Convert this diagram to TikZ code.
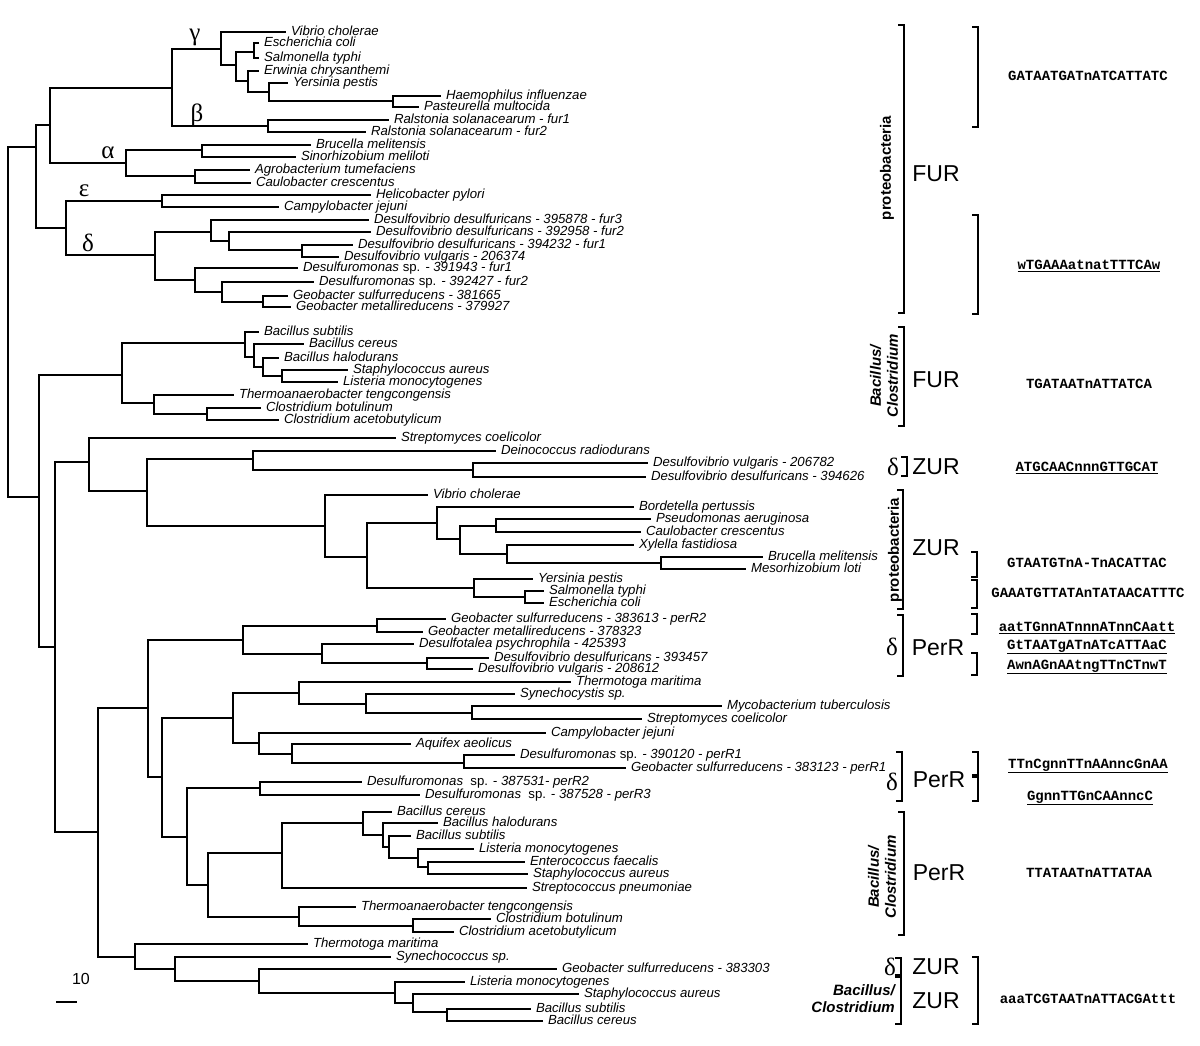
\documentclass[tikz,border=0pt]{standalone}
\usepackage{fontspec}
\setmainfont{Liberation Sans}
\setmonofont{Liberation Mono}
\newfontfamily\greekfont{Liberation Serif}
\usepackage{tikz}

\newcommand{\grpbrace}[3]{\draw[clade] (#1-6,#2) -- (#1,#2) -- (#1,#3) -- (#1-6,#3);}

\begin{document}
\begin{tikzpicture}[x=1pt, y=-1pt,
    branch/.style={line width=1.6pt, line cap=rect},
    clade/.style={line width=1.6pt},
    fork/.style={inner sep=0pt, outer sep=0pt, minimum size=0pt},
    leaf/.style={anchor=west, inner xsep=6pt, inner ysep=0pt, outer sep=0pt,
        text height=9.5pt, text depth=2.8pt, font=\fontsize{13.2}{15}\selectfont\itshape},
    greek/.style={inner sep=0pt, font=\fontsize{25}{25}\selectfont\greekfont},
    regulator/.style={inner sep=0pt, font=\fontsize{23}{23}\selectfont},
    motif/.style={inner sep=0pt, font=\fontsize{14}{14}\selectfont\ttfamily\bfseries},
    group/.style={inner sep=0pt, rotate=90, align=center, font=\fontsize{15}{17}\selectfont\bfseries},
    bacname/.style={inner sep=0pt, align=center, font=\fontsize{15}{17}\selectfont\bfseries\itshape}]
    \useasboundingbox (0,0) rectangle (1200,1046);

    % forks: FUR
    \node[fork] (root) at (8,497) {};
    \node[fork] (prot) at (36,147) {};
    \node[fork] (gab) at (50,125) {};
    \node[fork] (gb) at (172,88) {};
    \node[fork] (gam) at (221,49) {};
    \node[fork] (g1) at (236,65) {};
    \node[fork] (g2) at (254,52) {};
    \node[fork] (g3) at (248,81) {};
    \node[fork] (g4) at (269,92) {};
    \node[fork] (g5) at (393,101) {};
    \node[fork] (bet) at (268,126) {};
    \node[fork] (alp) at (126,163) {};
    \node[fork] (a1) at (202,150) {};
    \node[fork] (a2) at (195,176) {};
    \node[fork] (ed) at (66,228) {};
    \node[fork] (eps) at (162,201) {};
    \node[fork] (del) at (155,255) {};
    \node[fork] (d1) at (211,232) {};
    \node[fork] (d2) at (229,241) {};
    \node[fork] (d3) at (302,250) {};
    \node[fork] (d4) at (195,280) {};
    \node[fork] (d5) at (222,292) {};
    \node[fork] (d6) at (263,302) {};
    \node[fork] (low) at (39,497) {};
    \node[fork] (bcf) at (122,375) {};
    \node[fork] (b1) at (245,343) {};
    \node[fork] (b2) at (254,357) {};
    \node[fork] (b3) at (263,367) {};
    \node[fork] (b4) at (282,376) {};
    \node[fork] (c1) at (154,403) {};
    \node[fork] (c2) at (207,414) {};
    % forks: ZUR
    \node[fork] (zp) at (55,647) {};
    \node[fork] (z1) at (89,462) {};
    \node[fork] (z2) at (147,491) {};
    \node[fork] (z3) at (253,459) {};
    \node[fork] (z4) at (473,470) {};
    \node[fork] (zpro) at (325,526) {};
    \node[fork] (z5) at (367,557) {};
    \node[fork] (z6) at (437,523) {};
    \node[fork] (z7) at (460,539) {};
    \node[fork] (z8) at (496,526) {};
    \node[fork] (z9) at (507,554) {};
    \node[fork] (z10) at (661,563) {};
    \node[fork] (z11) at (474,588) {};
    \node[fork] (z12) at (525,597) {};
    % forks: PerR
    \node[fork] (pz) at (98,832) {};
    \node[fork] (p0) at (148,708) {};
    \node[fork] (pd) at (243,640) {};
    \node[fork] (p1) at (377,626) {};
    \node[fork] (p2) at (322,654) {};
    \node[fork] (p3) at (427,663) {};
    \node[fork] (p4) at (162,777) {};
    \node[fork] (p5) at (233,718) {};
    \node[fork] (p6) at (299,693) {};
    \node[fork] (p7) at (366,704) {};
    \node[fork] (p8) at (472,713) {};
    \node[fork] (p9) at (259,743) {};
    \node[fork] (p10) at (292,754) {};
    \node[fork] (p11) at (464,763) {};
    \node[fork] (p12) at (187,837) {};
    \node[fork] (p13) at (260,788) {};
    \node[fork] (pb) at (208,885) {};
    \node[fork] (p14) at (282,853) {};
    \node[fork] (p15) at (363,823) {};
    \node[fork] (p16) at (383,835) {};
    \node[fork] (p17) at (389,847) {};
    \node[fork] (p18) at (418,858) {};
    \node[fork] (p19) at (428,867) {};
    \node[fork] (p20) at (299,917) {};
    \node[fork] (p21) at (413,926) {};
    \node[fork] (zb) at (135,957) {};
    \node[fork] (q1) at (175,969) {};
    \node[fork] (q2) at (259,981) {};
    \node[fork] (q3) at (395,993) {};
    \node[fork] (q4) at (413,1003) {};
    \node[fork] (q5) at (447,1012) {};

    % leaves: FUR
    \node[leaf] (vcho) at (285,32) {Vibrio cholerae};
    \node[leaf] (ecol) at (258,43) {Escherichia coli};
    \node[leaf] (styp) at (258,58) {Salmonella typhi};
    \node[leaf] (erwi) at (258,71) {Erwinia chrysanthemi};
    \node[leaf] (ypes) at (287,83) {Yersinia pestis};
    \node[leaf] (hinf) at (440,96) {Haemophilus influenzae};
    \node[leaf] (pmul) at (418,107) {Pasteurella multocida};
    \node[leaf] (rso1) at (388,120) {Ralstonia solanacearum - fur1};
    \node[leaf] (rso2) at (365,132) {Ralstonia solanacearum - fur2};
    \node[leaf] (bmel) at (310,145) {Brucella melitensis};
    \node[leaf] (smel) at (295,157) {Sinorhizobium meliloti};
    \node[leaf] (atum) at (249,170) {Agrobacterium tumefaciens};
    \node[leaf] (ccre) at (250,183) {Caulobacter crescentus};
    \node[leaf] (hpyl) at (370,195) {Helicobacter pylori};
    \node[leaf] (cjej) at (278,207) {Campylobacter jejuni};
    \node[leaf] (ddes1) at (368,220) {Desulfovibrio desulfuricans - 395878 - fur3};
    \node[leaf] (ddes2) at (370,232) {Desulfovibrio desulfuricans - 392958 - fur2};
    \node[leaf] (ddes3) at (352,245) {Desulfovibrio desulfuricans - 394232 - fur1};
    \node[leaf] (dvul1) at (338,257) {Desulfovibrio vulgaris - 206374};
    \node[leaf] (dsp1) at (297,268) {Desulfuromonas \textup{sp.} - 391943 - fur1};
    \node[leaf] (dsp2) at (313,282) {Desulfuromonas \textup{sp.} - 392427 - fur2};
    \node[leaf] (gsul1) at (287,296) {Geobacter sulfurreducens - 381665};
    \node[leaf] (gmet1) at (290,307) {Geobacter metallireducens - 379927};
    \node[leaf] (bsub) at (258,332) {Bacillus subtilis};
    \node[leaf] (bcer) at (303,344) {Bacillus cereus};
    \node[leaf] (bhal) at (278,358) {Bacillus halodurans};
    \node[leaf] (saur) at (347,370) {Staphylococcus aureus};
    \node[leaf] (lmon) at (337,382) {Listeria monocytogenes};
    \node[leaf] (tten) at (233,395) {Thermoanaerobacter tengcongensis};
    \node[leaf] (cbot) at (260,408) {Clostridium botulinum};
    \node[leaf] (cace) at (278,420) {Clostridium acetobutylicum};
    % leaves: ZUR
    \node[leaf] (scoe) at (395,438) {Streptomyces coelicolor};
    \node[leaf] (drad) at (495,451) {Deinococcus radiodurans};
    \node[leaf] (dvul2) at (647,463) {Desulfovibrio vulgaris - 206782};
    \node[leaf] (ddes4) at (645,477) {Desulfovibrio desulfuricans - 394626};
    \node[leaf] (vcho2) at (427,495) {Vibrio cholerae};
    \node[leaf] (bper) at (633,507) {Bordetella pertussis};
    \node[leaf] (paer) at (650,519) {Pseudomonas aeruginosa};
    \node[leaf] (ccre2) at (640,532) {Caulobacter crescentus};
    \node[leaf] (xfas) at (633,545) {Xylella fastidiosa};
    \node[leaf] (bmel2) at (762,557) {Brucella melitensis};
    \node[leaf] (mlot) at (745,569) {Mesorhizobium loti};
    \node[leaf] (ypes2) at (532,579) {Yersinia pestis};
    \node[leaf] (styp2) at (543,591) {Salmonella typhi};
    \node[leaf] (ecol2) at (543,603) {Escherichia coli};
    % leaves: PerR
    \node[leaf] (gsul2) at (445,619) {Geobacter sulfurreducens - 383613 - perR2};
    \node[leaf] (gmet2) at (422,632) {Geobacter metallireducens - 378323};
    \node[leaf] (dpsy) at (413,644) {Desulfotalea psychrophila - 425393};
    \node[leaf] (ddes5) at (488,658) {Desulfovibrio desulfuricans - 393457};
    \node[leaf] (dvul3) at (472,669) {Desulfovibrio vulgaris - 208612};
    \node[leaf] (tmar) at (570,682) {Thermotoga maritima};
    \node[leaf] (syny) at (514,694) {Synechocystis sp.};
    \node[leaf] (mtub) at (721,706) {Mycobacterium tuberculosis};
    \node[leaf] (scoe2) at (641,719) {Streptomyces coelicolor};
    \node[leaf] (cjej2) at (545,733) {Campylobacter jejuni};
    \node[leaf] (aaeo) at (410,744) {Aquifex aeolicus};
    \node[leaf] (dsp3) at (514,755) {Desulfuromonas \textup{sp.} - 390120 - perR1};
    \node[leaf] (gsul3) at (625,768) {Geobacter sulfurreducens - 383123 - perR1};
    \node[leaf] (dsp4) at (361,782) {Desulfuromonas \ \textup{sp.} - 387531- perR2};
    \node[leaf] (dsp5) at (419,795) {Desulfuromonas \ \textup{sp.} - 387528 - perR3};
    \node[leaf] (bcer2) at (391,812) {Bacillus cereus};
    \node[leaf] (bhal2) at (437,823) {Bacillus halodurans};
    \node[leaf] (bsub2) at (410,836) {Bacillus subtilis};
    \node[leaf] (lmon2) at (473,849) {Listeria monocytogenes};
    \node[leaf] (efae) at (524,862) {Enterococcus faecalis};
    \node[leaf] (saur2) at (527,874) {Staphylococcus aureus};
    \node[leaf] (spne) at (526,888) {Streptococcus pneumoniae};
    \node[leaf] (tten2) at (355,907) {Thermoanaerobacter tengcongensis};
    \node[leaf] (cbot2) at (490,919) {Clostridium botulinum};
    \node[leaf] (cace2) at (453,932) {Clostridium acetobutylicum};
    % leaves: ZUR (Bacillus/Clostridium)
    \node[leaf] (tmar2) at (307,944) {Thermotoga maritima};
    \node[leaf] (sync) at (390,957) {Synechococcus sp.};
    \node[leaf] (gsul4) at (556,969) {Geobacter sulfurreducens - 383303};
    \node[leaf] (lmon3) at (464,982) {Listeria monocytogenes};
    \node[leaf] (saur3) at (578,994) {Staphylococcus aureus};
    \node[leaf] (bsub3) at (530,1009) {Bacillus subtilis};
    \node[leaf] (bcer3) at (542,1021) {Bacillus cereus};

    % branches
    \foreach \p/\a/\b in {root/prot/low, prot/gab/ed, gab/gb/alp, gb/gam/bet,
        gam/vcho/g1, g1/g2/g3, g2/ecol/styp, g3/erwi/g4, g4/ypes/g5, g5/hinf/pmul,
        bet/rso1/rso2, alp/a1/a2, a1/bmel/smel, a2/atum/ccre, ed/eps/del,
        eps/hpyl/cjej, del/d1/d4, d1/ddes1/d2, d2/ddes2/d3, d3/ddes3/dvul1,
        d4/dsp1/d5, d5/dsp2/d6, d6/gsul1/gmet1,
        low/bcf/zp, bcf/b1/c1, b1/bsub/b2, b2/bcer/b3, b3/bhal/b4, b4/saur/lmon,
        c1/tten/c2, c2/cbot/cace,
        zp/z1/pz, z1/scoe/z2, z2/z3/zpro, z3/drad/z4, z4/dvul2/ddes4,
        zpro/vcho2/z5, z5/z6/z11, z6/bper/z7, z7/z8/z9, z8/paer/ccre2,
        z9/xfas/z10, z10/bmel2/mlot, z11/ypes2/z12, z12/styp2/ecol2,
        pz/p0/zb, p0/pd/p4, pd/p1/p2, p1/gsul2/gmet2, p2/dpsy/p3, p3/ddes5/dvul3,
        p4/p5/p12, p5/p6/p9, p6/tmar/p7, p7/syny/p8, p8/mtub/scoe2,
        p9/cjej2/p10, p10/aaeo/p11, p11/dsp3/gsul3, p12/p13/pb, p13/dsp4/dsp5,
        pb/p14/p20, p14/p15/spne, p15/bcer2/p16, p16/bhal2/p17, p17/bsub2/p18,
        p18/lmon2/p19, p19/efae/saur2, p20/tten2/p21, p21/cbot2/cace2,
        zb/tmar2/q1, q1/sync/q2, q2/gsul4/q3, q3/lmon3/q4, q4/saur3/q5, q5/bsub3/bcer3}
        \draw[branch] (\a.west) -| (\p) (\b.west) -| (\p);

    % subdivisions
    \node[greek] (lgam) at (195,37) {γ};
    \node[greek] (lbet) at (197,115) {β};
    \node[greek] (lalp) at (108,153) {α};
    \node[greek] (leps) at (84,191) {ε};
    \node[greek] (ldel) at (88,243) {δ};

    % scale
    \node[font=\fontsize{16}{16}\selectfont] (unit) at (81,979) {10};
    \draw[branch, line cap=butt] (56,1002) -- (77,1002);

    % regulators and motifs
    \grpbrace{904}{25}{313}
    \grpbrace{978}{27}{127}
    \grpbrace{978}{215}{314}
    \node[group] (proA) at (887,168) {proteobacteria};
    \node[regulator] (furA) at (936,174) {FUR};
    \node[motif] (mA1) at (1088,76) {GATAATGATnATCATTATC};
    \node[motif] (mA2) at (1089,266) {\underline{wTGAAAatnatTTTCAw}};

    \grpbrace{904}{327}{426}
    \node[bacname, rotate=90] (bacA) at (884,376) {Bacillus/\\Clostridium};
    \node[regulator] (furB) at (936,380) {FUR};
    \node[motif] (mB) at (1089,384) {TGATAATnATTATCA};

    \grpbrace{907}{457}{476}
    \node[greek] (dZa) at (893,467) {δ};
    \node[regulator] (zurA) at (936,467) {ZUR};
    \node[motif] (mC) at (1087,468) {\underline{ATGCAACnnnGTTGCAT}};

    \grpbrace{903}{490}{609}
    \grpbrace{977}{552}{577}
    \grpbrace{977}{580}{608}
    \node[group] (proB) at (895,550) {proteobacteria};
    \node[regulator] (zurB) at (936,548) {ZUR};
    \node[motif] (mD1) at (1087,563) {GTAATGTnA-TnACATTAC};
    \node[motif] (mD2) at (1088,593) {GAAATGTTATAnTATAACATTTC};

    \grpbrace{903}{615}{676}
    \grpbrace{977}{614}{634}
    \grpbrace{977}{653}{675}
    \node[greek] (dPa) at (892,647) {δ};
    \node[regulator] (perA) at (938,648) {PerR};
    \node[motif] (mE1) at (1087,628) {\underline{aatTGnnATnnnATnnCAatt}};
    \node[motif] (mE2) at (1087,647) {\underline{GtTAATgATnATcATTAaC}};
    \node[motif] (mE3) at (1087,667) {\underline{AwnAGnAAtngTTnCTnwT}};

    \grpbrace{902}{752}{801}
    \grpbrace{978}{752}{775}
    \grpbrace{978}{777}{801}
    \node[greek] (dPb) at (892,782) {δ};
    \node[regulator] (perB) at (939,780) {PerR};
    \node[motif] (mF1) at (1088,766) {\underline{TTnCgnnTTnAAnncGnAA}};
    \node[motif] (mF2) at (1090,798) {\underline{GgnnTTGnCAAnncC}};

    \grpbrace{904}{812}{935}
    \node[bacname, rotate=90] (bacB) at (882,877) {Bacillus/\\Clostridium};
    \node[regulator] (perC) at (939,873) {PerR};
    \node[motif] (mG) at (1089,873) {TTATAATnATTATAA};

    \grpbrace{901}{958}{975}
    \grpbrace{901}{977}{1024}
    \grpbrace{978}{957}{1024}
    \node[greek] (dZb) at (890,967) {δ};
    \node[regulator] (zurC) at (936,967) {ZUR};
    \node[bacname, anchor=east, align=right] (bacC) at (895,999) {Bacillus/\\Clostridium};
    \node[regulator] (zurD) at (936,1001) {ZUR};
    \node[motif] (mH) at (1088,999) {aaaTCGTAATnATTACGAttt};
\end{tikzpicture}
\end{document}
